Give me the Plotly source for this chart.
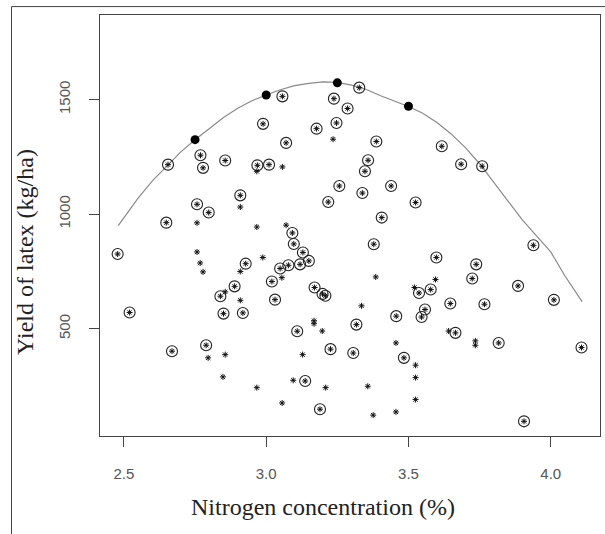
import plotly.graph_objects as go

# Circled observations (nitrogen %, yield kg/ha)
circ_n = [2.478, 2.520, 2.655, 2.649, 2.669, 2.769, 2.778, 2.757, 2.798, 2.789,
          2.856, 2.839, 2.850, 2.889, 2.909, 2.928, 2.918, 2.969, 3.010, 2.989,
          3.057, 3.070, 3.020, 3.031, 3.049, 3.078, 3.092, 3.097, 3.129, 3.119,
          3.150, 3.109, 3.137, 3.177, 3.170, 3.198, 3.208, 3.189, 3.218, 3.238,
          3.247, 3.257, 3.226, 3.286, 3.327, 3.387, 3.358, 3.347, 3.338, 3.378,
          3.406, 3.317, 3.306, 3.439, 3.457, 3.484, 3.525, 3.537, 3.546, 3.558,
          3.578, 3.598, 3.617, 3.647, 3.665, 3.685, 3.724, 3.738, 3.759, 3.767,
          3.817, 3.885, 3.939, 3.906, 4.011, 4.108]
circ_y = [826, 571, 1216, 963, 402, 1257, 1202, 1043, 1007, 428,
          1234, 642, 566, 685, 1082, 784, 569, 1213, 1216, 1394,
          1514, 1311, 706, 627, 763, 777, 918, 870, 833, 781,
          796, 489, 272, 1373, 680, 652, 644, 149, 1053, 1504,
          1398, 1123, 411, 1461, 1552, 1317, 1235, 1187, 1092, 869,
          985, 518, 394, 1123, 555, 373, 1051, 656, 551, 584,
          671, 811, 1296, 610, 482, 1218, 719, 781, 1209, 607,
          438, 687, 864, 96, 626, 418]

# Plain asterisk observations
star_n = [2.757, 2.757, 2.768, 2.778, 2.796, 2.856, 2.848, 2.856, 2.909, 2.909,
          2.909, 2.967, 2.967, 2.988, 2.967, 3.057, 3.070, 3.055, 3.056, 3.095,
          3.128, 3.168, 3.168, 3.197, 3.209, 3.235, 3.335, 3.385, 3.357, 3.376,
          3.456, 3.456, 3.525, 3.525, 3.525, 3.521, 3.595, 3.641, 3.735, 3.735]
star_y = [962, 835, 787, 748, 373, 387, 290, 661, 1031, 750,
          624, 1187, 944, 811, 243, 1206, 952, 723, 176, 275,
          387, 535, 522, 490, 243, 1327, 600, 726, 249, 123,
          438, 137, 341, 287, 191, 680, 715, 490, 447, 428]

# Highlighted (filled) points on the boundary curve
dot_n = [2.75, 3.00, 3.25, 3.50]
dot_y = [1325, 1520, 1573, 1471]

# Boundary curve
curve_n = [2.48, 2.55, 2.60, 2.655, 2.70, 2.75, 2.80, 2.85, 2.90, 2.95, 3.00,
           3.05, 3.10, 3.15, 3.20, 3.25, 3.30, 3.35, 3.40, 3.45, 3.50, 3.55,
           3.60, 3.65, 3.70, 3.75, 3.80, 3.85, 3.90, 3.95, 4.00, 4.05, 4.11]
curve_y = [950, 1070, 1145, 1216, 1272, 1325, 1375, 1422, 1462, 1495, 1520,
           1543, 1561, 1571, 1577, 1575, 1563, 1545, 1518, 1495, 1470, 1440,
           1400, 1350, 1290, 1220, 1140, 1055, 975, 905, 835, 730, 618]

x_ticks = [2.5, 3.0, 3.5, 4.0]
x_ticktext = ["2.5", "3.0", "3.5", "4.0"]
y_ticks = [500, 1000, 1500]
x_title = "Nitrogen concentration (%)"
y_title = "Yield of latex (kg/ha)"

fig = go.Figure()
fig.add_trace(go.Scatter(x=curve_n, y=curve_y, mode="lines",
                         line=dict(color="#8a8a8a", width=1.2), hoverinfo="skip"))
fig.add_trace(go.Scatter(x=circ_n, y=circ_y, mode="markers",
                         marker=dict(symbol="circle-open", size=11, color="#222222",
                                     line=dict(color="#222222", width=1.1))))
fig.add_trace(go.Scatter(x=circ_n + star_n, y=circ_y + star_y, mode="markers",
                         marker=dict(symbol="asterisk-open", size=5, color="#111111",
                                     line=dict(color="#111111", width=1))))
fig.add_trace(go.Scatter(x=dot_n, y=dot_y, mode="markers",
                         marker=dict(symbol="circle", size=9, color="#000000")))

axis_font = dict(family="Liberation Sans, Arial, sans-serif", size=15, color="#555555")
title_font = dict(family="Liberation Serif, Times New Roman, serif", size=24, color="#222222")

fig.update_layout(
    width=605, height=534,
    margin=dict(l=100, r=5, t=15, b=98, pad=0, autoexpand=False),
    paper_bgcolor="white", plot_bgcolor="white",
    showlegend=False,
    xaxis=dict(range=[2.416, 4.173], tickvals=x_ticks, ticktext=x_ticktext,
               ticks="outside", ticklen=10, tickcolor="#444444", tickwidth=1,
               showline=True, mirror=True, linecolor="#444444", linewidth=1,
               showgrid=False, zeroline=False, tickfont=axis_font, automargin=False,
               ticklabelstandoff=14),
    yaxis=dict(range=[32, 1869], tickvals=y_ticks,
               ticks="outside", ticklen=10, tickcolor="#444444", tickwidth=1,
               showline=True, mirror=True, linecolor="#444444", linewidth=1,
               showgrid=False, zeroline=False, tickfont=axis_font, tickangle=-90,
               automargin=False, ticklabelstandoff=13),
    annotations=[
        dict(text=x_title, xref="paper", yref="paper", x=0.446, y=-0.1686,
             xanchor="center", yanchor="middle", showarrow=False, font=title_font),
        dict(text=y_title, xref="paper", yref="paper", x=-0.15, y=0.437,
             xanchor="center", yanchor="middle", showarrow=False, font=title_font,
             textangle=-90),
    ],
    shapes=[
        dict(type="line", xref="paper", yref="paper", x0=-0.177, x1=-0.177,
             y0=1.02, y1=-0.25, line=dict(color="#444444", width=1)),
        dict(type="line", xref="paper", yref="paper", x0=-0.177, x1=1.02,
             y0=1.02, y1=1.02, line=dict(color="#444444", width=1)),
    ],
)

fig.write_html("out.html", config={"displayModeBar": False},
               post_script="document.body.style.margin='0px';")
